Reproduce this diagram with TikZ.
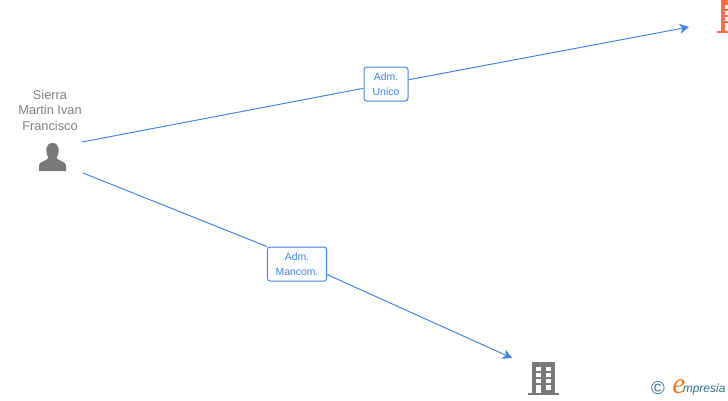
\documentclass[tikz,border=0pt]{standalone}
\usepackage{fontspec}
\setmainfont{Liberation Sans}
\newfontfamily\logofont{Liberation Serif}
\usetikzlibrary{arrows.meta,positioning}

\begin{document}
\begin{tikzpicture}[
    x=0.75pt, y=-0.75pt,
    link/.style={draw=linkblue, line width=0.75pt},
    arrow/.style={link, -{Stealth[length=7pt,width=7.5pt,inset=2pt]}},
    role/.style={draw=linkblue, rounded corners=2pt, fill=rolefill, align=center, inner sep=0pt,
                 line width=0.75pt, text=linkblue, font=\fontsize{7.8}{11.2}\selectfont,
                 minimum height=25.5pt},
    person/.style={align=center, text=namegrey, inner sep=0pt,
                 font=\fontsize{9.6}{11.6}\selectfont},
    building/.pic={
        \fill[pic actions] (-11.5,-33) rectangle (11.5,-2);
        \fill[pic actions] (-15.5,-2) rectangle (15.5,0);
        \foreach \row in {-28.5,-22.5,-16} {
            \fill[white] (-7.5,\row) rectangle ++(4.5,4);
            \fill[white] (2.5,\row) rectangle ++(4.5,4);
        }
        \fill[white] (-7.5,-10) rectangle (-3,-2);
        \fill[white] (2.5,-10) rectangle (7,-5.5);
    }
]
\definecolor{linkblue}{HTML}{4485E4}
\definecolor{rolefill}{HTML}{FBFCFE}
\definecolor{namegrey}{HTML}{808080}
\definecolor{icongrey}{HTML}{787878}
\definecolor{buildorange}{HTML}{FF6F43}
\definecolor{logoteal}{HTML}{2F7291}
\definecolor{logoorange}{HTML}{F07A1A}

\useasboundingbox (0,0) rectangle (728,400);
\clip (0,0) rectangle (728,400);

% people and companies
\node[person] (sierra) at (50,110) {Sierra\\Martin Ivan\\Francisco};
\fill[icongrey] (39,171) -- (39,165.5) .. controls (39,161.5) and (46.5,161) .. (48.5,158)
    .. controls (45,153) and (45,143) .. (52.5,143)
    .. controls (60,143) and (60,153) .. (56.5,158)
    .. controls (58.5,161) and (66,161.5) .. (66,165.5) -- (66,171) -- cycle;
\pic[fill=icongrey] at (543.5,395) {building};
\pic[fill=buildorange] at (732.5,33) {building};

% role labels
\node[role, minimum width=33pt] (unico) at (386,84) {Adm.\\Unico};
\node[role, minimum width=44.5pt] (mancom) at (297,264) {Adm.\\Mancom.};

% connectors
\coordinate (unicostart) at (82,142);
\coordinate (unicoend) at (689,27);
\coordinate (mancomstart) at (83,173);
\coordinate (mancomout) at (327,274.5);
\coordinate (mancomend) at (512,358);

\draw[link] (unicostart) -- (unico);
\draw[arrow] (unico) -- (unicoend);
\draw[link] (mancomstart) -- (mancom.north west);
\draw[arrow] (mancomout) -- (mancomend);

% logo
\node[inner sep=0pt, text=logoteal, font=\fontsize{14}{14}\selectfont] (copy) at (658,388.5) {©};
\node[inner sep=0pt, text=logoteal, anchor=west, font=\itshape\fontsize{9}{10}\selectfont] (logotext) at (682.5,389.5) {mpresia};
\node[inner sep=0pt, text=logoorange, font=\logofont\itshape\fontsize{22}{22}\selectfont] (logoe) at (679,387) {e};
\end{tikzpicture}
\end{document}
